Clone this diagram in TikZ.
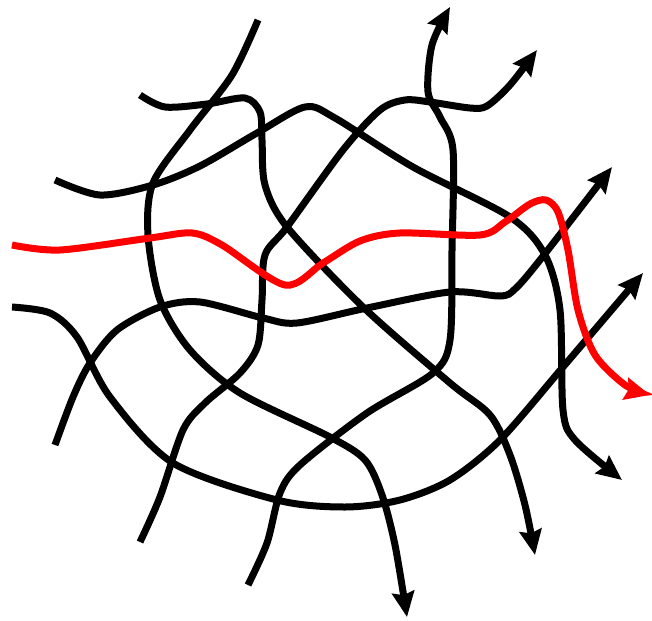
\documentclass[tikz,border=0pt]{standalone}
\usetikzlibrary{arrows.meta}
\tikzset{
  strand/.style={line width=7pt, black},
  redstrand/.style={line width=7pt, red},
  tip/.style={-{Stealth[length=25pt,width=22pt,inset=3pt]}}
}
\begin{document}
\begin{tikzpicture}[x=1pt,y={(0pt,-1pt)}]
\useasboundingbox (0,0) rectangle (652,620);
% A
\draw[strand,tip] plot[smooth] coordinates {(258,20) (232,75) (190,130) (153,183) (148,235) (160,300) (190,350) (240,393) (330,437) (365,460) (382,495) (395,545) (407,617)};
% B
\draw[strand,tip] plot[smooth] coordinates {(140,95) (165,107) (207,104) (245,98) (260,112) (262,140) (265,185) (287,227) (363,307) (450,383) (490,415) (510,455) (525,505) (535,555)};
% C
\draw[strand,tip] plot[smooth] coordinates {(55,180) (100,195) (153,185) (200,166) (257,133) (305,107) (335,118) (413,167) (510,217) (545,255) (560,310) (563,410) (575,440) (622,480)};
% E
\draw[strand,tip] plot[smooth] coordinates {(12,307) (50,313) (77,337) (110,397) (173,463) (277,500) (345,507) (400,500) (450,480) (500,440) (563,367) (643,273)};
% F
\draw[strand,tip] plot[smooth] coordinates {(55,445) (73,397) (90,363) (117,330) (160,307) (200,302) (263,318) (297,323) (367,308) (450,292) (500,296) (515,289) (540,260) (612,167)};
% G
\draw[strand,tip] plot[smooth] coordinates {(140,542) (160,497) (183,430) (205,403) (240,373) (258,345) (262,300) (265,255) (287,227) (343,150) (380,110) (405,100) (430,102) (470,108) (487,106) (510,85) (537,50)};
% H
\draw[strand,tip] plot[smooth] coordinates {(248,585) (267,543) (280,493) (300,465) (367,413) (433,373) (450,340) (452,250) (453,150) (440,117) (428,92) (432,45) (450,7)};
% Red
\draw[redstrand,tip] plot[smooth] coordinates {(12,245) (60,250) (150,238) (192,233) (222,245) (285,285) (323,263) (360,241) (400,233) (480,235) (505,222) (530,204) (546,200) (558,212) (568,250) (578,310) (595,355) (625,385) (650,395)};
\end{tikzpicture}
\end{document}
